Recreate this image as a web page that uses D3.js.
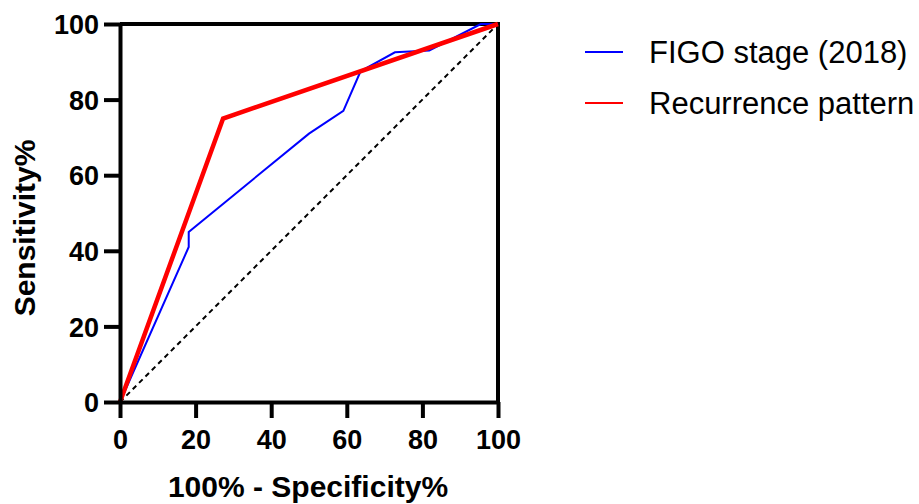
<!DOCTYPE html>
<html>
<head>
<meta charset="utf-8">
<script src="https://cdn.jsdelivr.net/npm/d3@7"></script>
<style>
  body { margin: 0; background: #fff; }
  svg { display: block; font-family: "Liberation Sans", Arial, sans-serif; }
</style>
</head>
<body>
<div id="chart"></div>
<script>
// ROC data
var figoX = [0, 18.18, 18.18, 50, 59.09, 63.64, 72.73, 81.82, 95.45, 100];
var figoY = [0, 41, 45, 71, 77, 87.5, 92.5, 93, 100, 100];
var recurX = [0, 27.27, 100];
var recurY = [0, 75, 100];
var refX = [0, 100];
var refY = [0, 100];
var tickValues = [0, 20, 40, 60, 80, 100];
var seriesNames = ["FIGO stage (2018)", "Recurrence pattern"];
var seriesColors = ["#0000ff", "#ff0000"];

var width = 919, height = 504;

var svg = d3.select("#chart").append("svg")
  .attr("width", width)
  .attr("height", height);

var x = d3.scaleLinear().domain([0, 100]).range([120, 498]);
var y = d3.scaleLinear().domain([0, 100]).range([402, 24]);

function pts(xs, ys) {
  return xs.map(function(d, i) { return [d, ys[i]]; });
}

var line = d3.line()
  .x(function(d) { return x(d[0]); })
  .y(function(d) { return y(d[1]); });

// top + right frame
svg.append("path")
  .attr("d", "M" + x(0) + "," + y(100) + "H" + x(100) + "V" + y(0))
  .attr("fill", "none")
  .attr("stroke", "#000")
  .attr("stroke-width", 4);

// diagonal reference
svg.append("path")
  .datum(pts(refX, refY))
  .attr("d", line)
  .attr("fill", "none")
  .attr("stroke", "#000")
  .attr("stroke-width", 2)
  .attr("stroke-dasharray", "5,4");

svg.append("path")
  .datum(pts(figoX, figoY))
  .attr("d", line)
  .attr("fill", "none")
  .attr("stroke", seriesColors[0])
  .attr("stroke-width", 2)
  .attr("stroke-linejoin", "miter");

svg.append("path")
  .datum(pts(recurX, recurY))
  .attr("d", line)
  .attr("fill", "none")
  .attr("stroke", seriesColors[1])
  .attr("stroke-width", 4.5)
  .attr("stroke-linejoin", "miter");

// axes
var xAxis = svg.append("g")
  .attr("transform", "translate(0," + y(0) + ")")
  .call(d3.axisBottom(x).tickValues(tickValues).tickSize(16).tickSizeOuter(0).tickPadding(6));

var yAxis = svg.append("g")
  .attr("transform", "translate(" + x(0) + ",0)")
  .call(d3.axisLeft(y).tickValues(tickValues).tickSize(16).tickSizeOuter(0).tickPadding(5));

[xAxis, yAxis].forEach(function(g) {
  g.select(".domain").attr("stroke-width", 4).attr("stroke", "#000");
  g.selectAll(".tick line").attr("stroke-width", 4).attr("stroke", "#000");
  g.selectAll(".tick text")
    .attr("fill", "#000")
    .style("font-size", "27px")
    .style("font-weight", "bold")
    .style("font-family", "'Liberation Sans', Arial, sans-serif");
});
xAxis.selectAll(".tick text").attr("dy", "0.92em");
yAxis.selectAll(".tick text").attr("dy", "0.36em");

// axis titles
svg.append("text")
  .attr("x", 308)
  .attr("y", 497)
  .attr("text-anchor", "middle")
  .style("font-size", "30px")
  .style("font-weight", "bold")
  .text("100% - Specificity%");

svg.append("text")
  .attr("transform", "translate(35,228) rotate(-90)")
  .attr("text-anchor", "middle")
  .style("font-size", "30px")
  .style("font-weight", "bold")
  .text("Sensitivity%");

// legend
var legend = svg.append("g")
  .selectAll("g")
  .data(seriesNames)
  .enter().append("g")
  .attr("transform", function(d, i) { return "translate(585," + (52 + i * 51) + ")"; });

legend.append("line")
  .attr("x1", 0).attr("x2", 38)
  .attr("y1", 0).attr("y2", 0)
  .attr("stroke", function(d, i) { return seriesColors[i]; })
  .attr("stroke-width", 2);

legend.append("text")
  .attr("x", 64)
  .attr("dy", "0.35em")
  .style("font-size", "31px")
  .attr("fill", "#000")
  .text(function(d) { return d; });
</script>
</body>
</html>
